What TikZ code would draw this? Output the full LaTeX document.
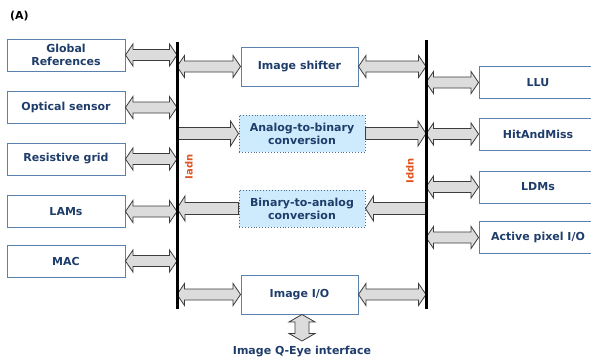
\documentclass[tikz,border=0pt]{standalone}
\usepackage{fontspec}
\setmainfont{DejaVu Sans}
\usetikzlibrary{calc}
\definecolor{boxline}{HTML}{5B82AE}
\definecolor{txt}{HTML}{1F3D6B}
\definecolor{lblue}{HTML}{CDEBFC}
\definecolor{dotline}{HTML}{4A6F96}
\definecolor{busred}{HTML}{E0521F}
\definecolor{arrfill}{HTML}{DCDCDC}
\definecolor{arrline}{HTML}{3C3C3C}
\tikzset{
  box/.style={draw=boxline, line width=0.9pt, fill=white, minimum width=118pt,
    minimum height=32pt, inner sep=0pt, font=\bfseries\fontsize{11}{13}\selectfont,
    text=txt, align=center},
  convbox/.style={box, draw=dotline, dotted, fill=lblue, minimum width=126pt,
    minimum height=37pt, line width=1pt},
  blk/.style={fill=arrfill, draw=arrline, line width=0.8pt, line join=miter},
  bus/.style={line width=3pt, black},
  buslabel/.style={text=busred, font=\bfseries\fontsize{10}{12}\selectfont, rotate=90, inner sep=0pt},
  plain/.style={font=\bfseries\fontsize{11}{13}\selectfont, inner sep=0pt}
}
% horizontal double-headed block arrow
\newcommand\dblarr[2]{%
  \draw[blk] let \p1=#1, \p2=#2, \n1={sign(\x2-\x1)} in
    (\x1,\y1) -- ({\x1+(\n1)*7.5pt},{\y1+11pt}) -- ({\x1+(\n1)*7.5pt},{\y1+5.5pt})
    -- ({\x2-(\n1)*7.5pt},{\y1+5.5pt}) -- ({\x2-(\n1)*7.5pt},{\y1+11pt}) -- (\x2,\y1)
    -- ({\x2-(\n1)*7.5pt},{\y1-11pt}) -- ({\x2-(\n1)*7.5pt},{\y1-5.5pt})
    -- ({\x1+(\n1)*7.5pt},{\y1-5.5pt}) -- ({\x1+(\n1)*7.5pt},{\y1-11pt}) -- cycle;}
% horizontal single-headed block arrow, head at #2
\newcommand\sglarr[2]{%
  \draw[blk] let \p1=#1, \p2=#2, \n1={sign(\x2-\x1)} in
    (\x1,{\y1+6pt}) -- ({\x2-(\n1)*8pt},{\y1+6pt}) -- ({\x2-(\n1)*8pt},{\y1+12.5pt})
    -- (\x2,\y1) -- ({\x2-(\n1)*8pt},{\y1-12.5pt}) -- ({\x2-(\n1)*8pt},{\y1-6pt})
    -- (\x1,{\y1-6pt}) -- cycle;}
% vertical double-headed block arrow
\newcommand\vdblarr[2]{%
  \draw[blk] let \p1=#1, \p2=#2, \n1={sign(\y2-\y1)} in
    (\x1,\y1) -- ({\x1+13pt},{\y1+(\n1)*7.5pt}) -- ({\x1+7pt},{\y1+(\n1)*7.5pt})
    -- ({\x1+7pt},{\y2-(\n1)*7.5pt}) -- ({\x1+13pt},{\y2-(\n1)*7.5pt}) -- (\x1,\y2)
    -- ({\x1-13pt},{\y2-(\n1)*7.5pt}) -- ({\x1-7pt},{\y2-(\n1)*7.5pt})
    -- ({\x1-7pt},{\y1+(\n1)*7.5pt}) -- ({\x1-13pt},{\y1+(\n1)*7.5pt}) -- cycle;}
\begin{document}
\begin{tikzpicture}[x=1pt,y=-1pt]
\useasboundingbox (0,0) rectangle (591,359);
\clip (0,0) rectangle (591,359);
\fill[white] (0,0) rectangle (591,359);

\node[plain, anchor=west] (title) at (10,16) {(A)};

% bus coordinates
\coordinate (lbt) at (177,42);
\coordinate (lbb) at (177,309);
\coordinate (rbt) at (426,40);
\coordinate (rbb) at (426,309);

% left boxes
\node[box] (gr)  at (66,55)    {Global\\References};
\node[box] (os)  at (66,107.5) {Optical sensor};
\node[box] (rg)  at (66,159)   {Resistive grid};
\node[box] (lam) at (66,211.5) {LAMs};
\node[box] (mac) at (66,261)   {MAC};

% centre boxes
\node[box, minimum width=117pt, minimum height=39pt] (ish) at (299.5,66.5) {Image shifter};
\node[convbox] (a2b) at (302,133.5) {Analog-to-binary\\conversion};
\node[convbox] (b2a) at (302,208.5) {Binary-to-analog\\conversion};
\node[box, minimum width=117pt, minimum height=39pt] (io) at (299.5,294.5) {Image I/O};

% right boxes
\node[box] (llu) at (538,82.5)  {LLU};
\node[box] (ham) at (538,134)   {HitAndMiss};
\node[box] (ldm) at (538,187)   {LDMs};
\node[box] (api) at (538,237.5) {Active pixel I/O};

% interface label
\coordinate (qend) at (302,341);
\node[plain, text=txt] (qeye) at (302,352) {Image Q-Eye interface};

% left arrows
\dblarr{(gr.east)}{(gr.east -| lbt)}
\dblarr{(os.east)}{(os.east -| lbt)}
\dblarr{(rg.east)}{(rg.east -| lbt)}
\dblarr{(lam.east)}{(lam.east -| lbt)}
\dblarr{(mac.east)}{(mac.east -| lbt)}

% centre arrows
\dblarr{(ish.west -| lbt)}{(ish.west)}
\dblarr{(ish.east)}{(ish.east -| rbt)}
\sglarr{(a2b.west -| lbt)}{(a2b.west)}
\sglarr{(a2b.east)}{(a2b.east -| rbt)}
\sglarr{(b2a.east -| rbt)}{(b2a.east)}
\sglarr{(b2a.west)}{(b2a.west -| lbt)}
\dblarr{(io.west -| lbt)}{(io.west)}
\dblarr{(io.east)}{(io.east -| rbt)}
\vdblarr{(io.south -| qend)}{(qend)}

% right arrows
\dblarr{(llu.west -| rbt)}{(llu.west)}
\dblarr{(ham.west -| rbt)}{(ham.west)}
\dblarr{(ldm.west -| rbt)}{(ldm.west)}
\dblarr{(api.west -| rbt)}{(api.west)}

% buses
\draw[bus] (lbt) -- (lbb);
\draw[bus] (rbt) -- (rbb);
\node[buslabel] (iadn) at (189,167) {Iadn};
\node[buslabel] (iddn) at (410,171) {Iddn};
\end{tikzpicture}
\end{document}
